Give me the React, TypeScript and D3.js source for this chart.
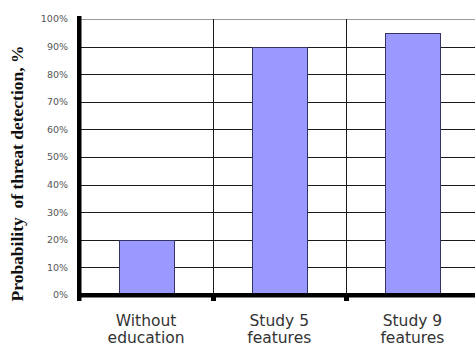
import React from "react";
import * as d3 from "d3";

// Chart data
const categories = ["Without education", "Study 5 features", "Study 9 features"];
const categoryLines = [
  ["Without", "education"],
  ["Study 5", "features"],
  ["Study 9", "features"],
];
const values = [20, 90, 95];
const yTicks = [0, 10, 20, 30, 40, 50, 60, 70, 80, 90, 100];
const yTitle = "Probability  of threat detection, %";

const W = 475;
const H = 349;

export default function App() {
  const x = d3
    .scaleBand<string>()
    .domain(categories)
    .range([79.5, 479])
    .paddingInner(0.59)
    .paddingOuter(0.295);
  const y = d3.scaleLinear().domain([0, 100]).range([295, 19]);

  const step = x.step();
  const boundaries = categories
    .slice(1)
    .map((c) => Math.round((x(c) as number) - (step * 0.59) / 2) + 0.5);

  const plotLeft = 80;
  const plotRight = W;

  return (
    <svg
      width={W}
      height={H}
      viewBox={`0 0 ${W} ${H}`}
      style={{ position: "absolute", left: 0, top: 0, background: "#fff" }}
    >
      <rect x={0} y={0} width={W} height={H} fill="#fff" />

      {/* horizontal gridlines */}
      {yTicks.slice(1).map((t) => (
        <line
          key={`g${t}`}
          x1={plotLeft}
          x2={plotRight}
          y1={Math.round(y(t)) + 0.5}
          y2={Math.round(y(t)) + 0.5}
          stroke={t === 100 ? "#9a9a9a" : "#1a1a1a"}
          strokeWidth={1}
        />
      ))}

      {/* category separators */}
      {boundaries.map((bx, i) => (
        <line
          key={`s${i}`}
          x1={bx}
          x2={bx}
          y1={y(100)}
          y2={y(0)}
          stroke="#1a1a1a"
          strokeWidth={1}
        />
      ))}

      {/* bars */}
      {categories.map((c, i) => (
        <rect
          key={c}
          x={Math.round(x(c) as number) + 0.5}
          y={Math.round(y(values[i])) + 0.5}
          width={Math.round(x.bandwidth())}
          height={Math.round(y(0)) - Math.round(y(values[i]))}
          fill="#9999ff"
          stroke="#333366"
          strokeWidth={1}
        />
      ))}

      {/* value axis */}
      <rect x={77} y={16} width={4.5} height={285} fill="#000" />
      {/* category axis */}
      <rect x={77} y={293} width={W - 77} height={4.5} fill="#000" />
      {boundaries.map((bx, i) => (
        <rect key={`t${i}`} x={bx - 2.5} y={293} width={5} height={8} fill="#000" />
      ))}

      {/* value tick labels */}
      {yTicks.map((t) => (
        <text
          key={`l${t}`}
          x={68}
          y={y(t)}
          dy="0.35em"
          textAnchor="end"
          fontFamily="DejaVu Sans, Verdana, sans-serif"
          fontSize={9.5}
          fill="#555"
        >
          {`${t}%`}
        </text>
      ))}

      {/* category labels */}
      {categories.map((c, i) => (
        <text
          key={`c${c}`}
          x={(x(c) as number) + x.bandwidth() / 2}
          textAnchor="middle"
          fontFamily="DejaVu Sans, Verdana, sans-serif"
          fontSize={15.5}
          fill="#333"
        >
          <tspan x={(x(c) as number) + x.bandwidth() / 2} y={326}>
            {categoryLines[i][0]}
          </tspan>
          <tspan x={(x(c) as number) + x.bandwidth() / 2} y={343}>
            {categoryLines[i][1]}
          </tspan>
        </text>
      ))}

      {/* value axis title */}
      <text
        transform="translate(23,173.5) rotate(-90)"
        textAnchor="middle"
        fontFamily="Liberation Serif, Times New Roman, serif"
        fontWeight="bold"
        fontSize={17.5}
        fill="#111"
        style={{ whiteSpace: "pre" }}
      >
        {yTitle}
      </text>
    </svg>
  );
}
